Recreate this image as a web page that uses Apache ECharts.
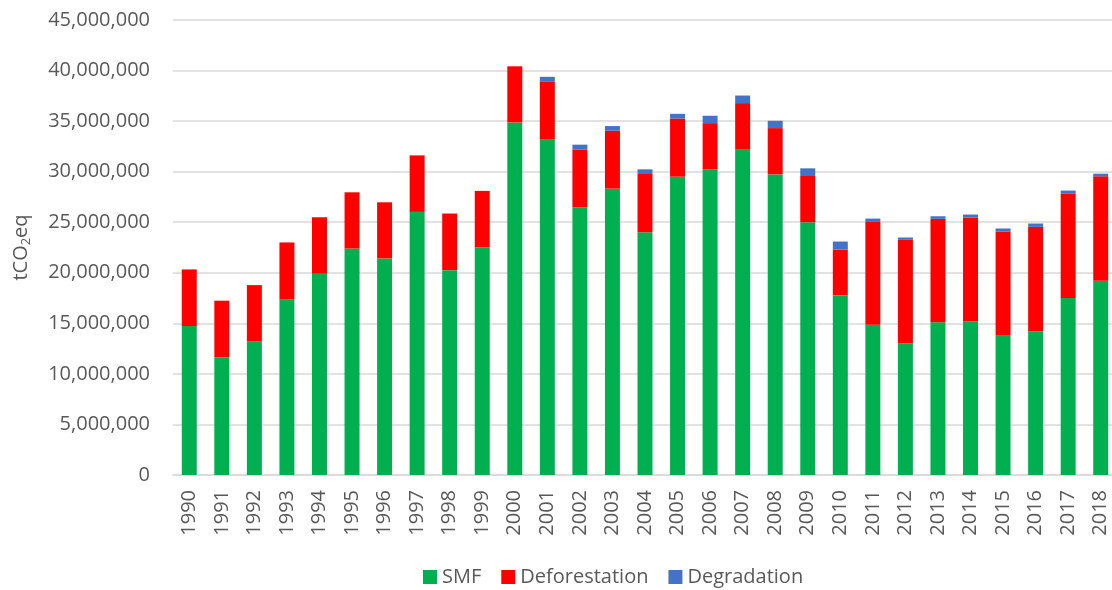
<!DOCTYPE html>
<html>
<head>
<meta charset="utf-8">
<script src="https://cdn.jsdelivr.net/npm/echarts@6/dist/echarts.min.js"></script>
<style>
  html, body { margin: 0; padding: 0; background: #fff; }
  #chart { width: 1112px; height: 590px; }
</style>
</head>
<body>
<div id="chart"></div>
<script>
// emission data, tCO2eq
const years = ['1990', '1991', '1992', '1993', '1994', '1995', '1996', '1997', '1998', '1999',
  '2000', '2001', '2002', '2003', '2004', '2005', '2006', '2007', '2008', '2009',
  '2010', '2011', '2012', '2013', '2014', '2015', '2016', '2017', '2018']
const smf = [14730000, 11650000, 13220000, 17370000, 19900000, 22400000, 21420000, 26020000, 20260000, 22500000,
  34870000, 33160000, 26480000, 28320000, 24010000, 29510000, 30200000, 32170000, 29730000, 25000000,
  17760000, 14870000, 13000000, 15100000, 15170000, 13850000, 14210000, 17500000, 19210000]
const deforestation = [5600000, 5590000, 5560000, 5630000, 5590000, 5560000, 5550000, 5590000, 5600000, 5600000,
  5550000, 5720000, 5720000, 5730000, 5760000, 5750000, 4600000, 4610000, 4580000, 4570000,
  4540000, 10230000, 10260000, 10230000, 10290000, 10230000, 10330000, 10330000, 10330000]
const degradation = [0, 0, 0, 0, 0, 0, 0, 0, 0, 0,
  0, 500000, 470000, 460000, 460000, 460000, 730000, 750000, 720000, 760000,
  790000, 260000, 230000, 260000, 300000, 300000, 330000, 300000, 260000]

const font = '"Open Sans", sans-serif'
const textColor = '#595959'

const chart = echarts.init(document.getElementById('chart'))

function bar(name, data, color) {
  return {
    name: name,
    type: 'bar',
    stack: 'total',
    barWidth: '46%',
    itemStyle: { color: color },
    data: data
  }
}

chart.setOption({
  animation: false,
  textStyle: { fontFamily: font },
  grid: {
    left: 173,
    top: 20,
    width: 944,
    height: 455,
    outerBoundsMode: 'none',
    containLabel: false
  },
  legend: {
    left: 418,
    top: 562,
    itemWidth: 14,
    itemHeight: 14,
    itemGap: 20,
    icon: 'rect',
    textStyle: { fontSize: 20, color: textColor, fontFamily: font },
    data: ['SMF', 'Deforestation', 'Degradation']
  },
  xAxis: {
    type: 'category',
    data: years,
    axisTick: { show: false },
    axisLine: { lineStyle: { color: '#D9D9D9', width: 1.5 } },
    axisLabel: {
      rotate: 90,
      margin: 15,
      fontSize: 20,
      color: textColor,
      fontFamily: font
    }
  },
  yAxis: {
    type: 'value',
    min: 0,
    max: 45000000,
    interval: 5000000,
    name: '{a|tCO}{b|2}{a|eq}',
    nameLocation: 'middle',
    nameGap: 140,
    nameRotate: 90,
    nameTextStyle: {
      rich: {
        a: { fontSize: 20, color: textColor, fontFamily: font },
        b: { fontSize: 13, color: textColor, fontFamily: font, padding: [10, 0, 0, 0] }
      }
    },
    axisLine: { show: false },
    axisTick: { show: false },
    splitLine: { lineStyle: { color: '#D9D9D9', width: 1.5 } },
    axisLabel: {
      margin: 23,
      fontSize: 20,
      color: textColor,
      fontFamily: font,
      formatter: v => v.toLocaleString('en-US')
    }
  },
  series: [
    bar('SMF', smf, '#00B050'),
    bar('Deforestation', deforestation, '#FF0000'),
    bar('Degradation', degradation, '#4472C4')
  ]
})
</script>
</body>
</html>
